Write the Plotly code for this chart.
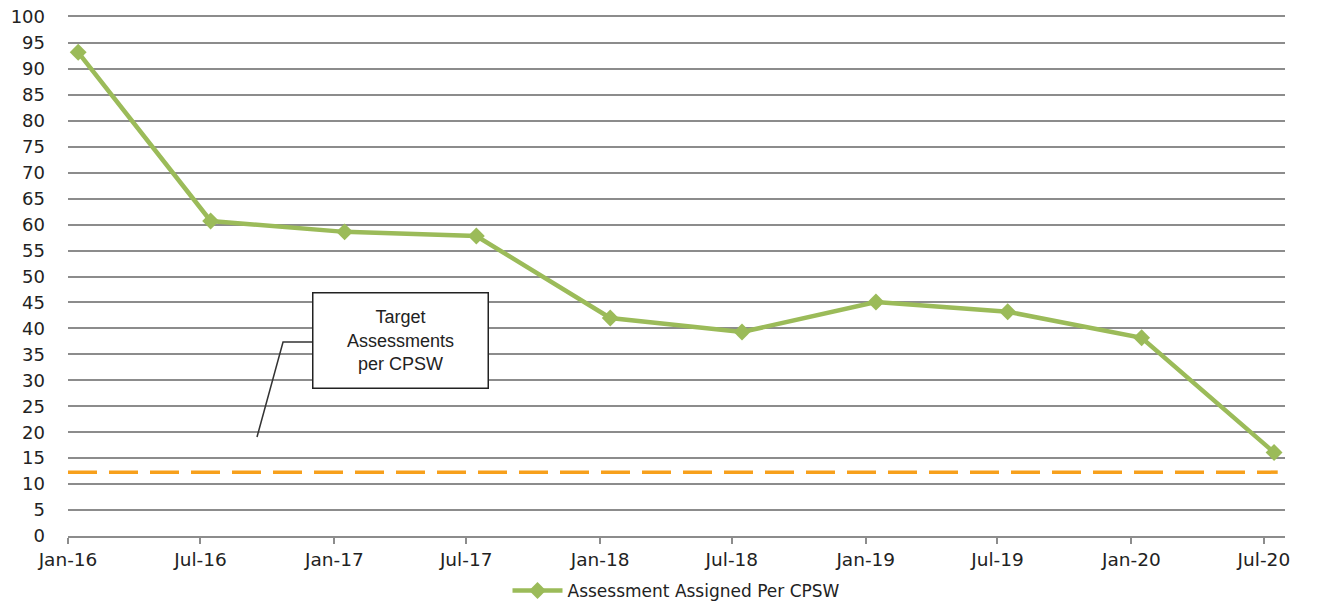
import plotly.graph_objects as go

# ---- data ----
point_dates = ["2016-01-15", "2016-07-15", "2017-01-15", "2017-07-15", "2018-01-15",
               "2018-07-15", "2019-01-15", "2019-07-15", "2020-01-15", "2020-07-15"]
assessments_per_cpsw = [93.2, 60.7, 58.6, 57.8, 42.0, 39.3, 45.1, 43.2, 38.2, 16.1]
series_name = "Assessment Assigned Per CPSW"

target_value = 12.3
target_dates = ["2016-01-01", "2020-07-20"]

tick_dates = ["2016-01-01", "2016-07-01", "2017-01-01", "2017-07-01", "2018-01-01",
              "2018-07-01", "2019-01-01", "2019-07-01", "2020-01-01", "2020-07-01"]
tick_labels = ["Jan-16", "Jul-16", "Jan-17", "Jul-17", "Jan-18",
               "Jul-18", "Jan-19", "Jul-19", "Jan-20", "Jul-20"]
y_ticks = list(range(0, 101, 5))

green = "#9BBB59"
orange = "#F7A01C"
grid = "#8C8C8C"
font_fam = "DejaVu Sans, sans-serif"

fig = go.Figure()
fig.add_trace(go.Scatter(
    x=target_dates, y=[target_value] * len(target_dates), mode="lines",
    line=dict(color=orange, width=3.5, dash="29px,12px"),
    showlegend=False, hoverinfo="skip"))
fig.add_trace(go.Scatter(
    x=point_dates, y=assessments_per_cpsw, mode="lines+markers", name=series_name,
    line=dict(color=green, width=4.5),
    marker=dict(symbol="diamond", size=13, color=green)))

fig.update_layout(
    width=1318, height=604,
    margin=dict(l=68, r=33, t=17, b=68, autoexpand=False),
    plot_bgcolor="white", paper_bgcolor="white",
    showlegend=True,
    legend=dict(orientation="h", x=0.5, xanchor="center",
                yref="container", y=1 - 591 / 604, yanchor="middle",
                itemwidth=50,
                font=dict(family=font_fam, size=17, color="#222222")),
    xaxis=dict(type="date", range=["2016-01-01", "2020-07-30"],
               tickmode="array", tickvals=tick_dates, ticktext=tick_labels,
               showgrid=False, showline=True, mirror=True,
               linecolor=grid, linewidth=1.5,
               ticks="outside", ticklen=6, tickcolor=grid, tickwidth=1.5,
               tickfont=dict(family=font_fam, size=18.5, color="#222222"),
               zeroline=False, automargin=False),
    yaxis=dict(range=[0, 100], tickmode="array", tickvals=y_ticks,
               showgrid=True, gridcolor=grid, gridwidth=1.5,
               showline=False, zeroline=False, ticks="",
               ticklabelstandoff=22, automargin=False,
               tickfont=dict(family=font_fam, size=18, color="#222222")),
)

fig.add_annotation(
    xref="paper", yref="paper", x=0.2732, y=0.3776, xanchor="center", yanchor="middle",
    text="Target<br>Assessments<br>per CPSW", showarrow=False, align="center",
    font=dict(family="Liberation Sans, Arial, sans-serif", size=18, color="#222222"),
    bgcolor="white", bordercolor="#222222", borderwidth=1.5, borderpad=2,
    width=170, height=90)
fig.add_shape(type="path", xref="paper", yref="paper",
              path="M 0.2005 0.3738 L 0.1767 0.3738 L 0.1553 0.1908",
              line=dict(color="#333333", width=1.5))

fig.write_html("out.html", config={"displayModeBar": False},
               post_script="document.body.style.margin='0';")
